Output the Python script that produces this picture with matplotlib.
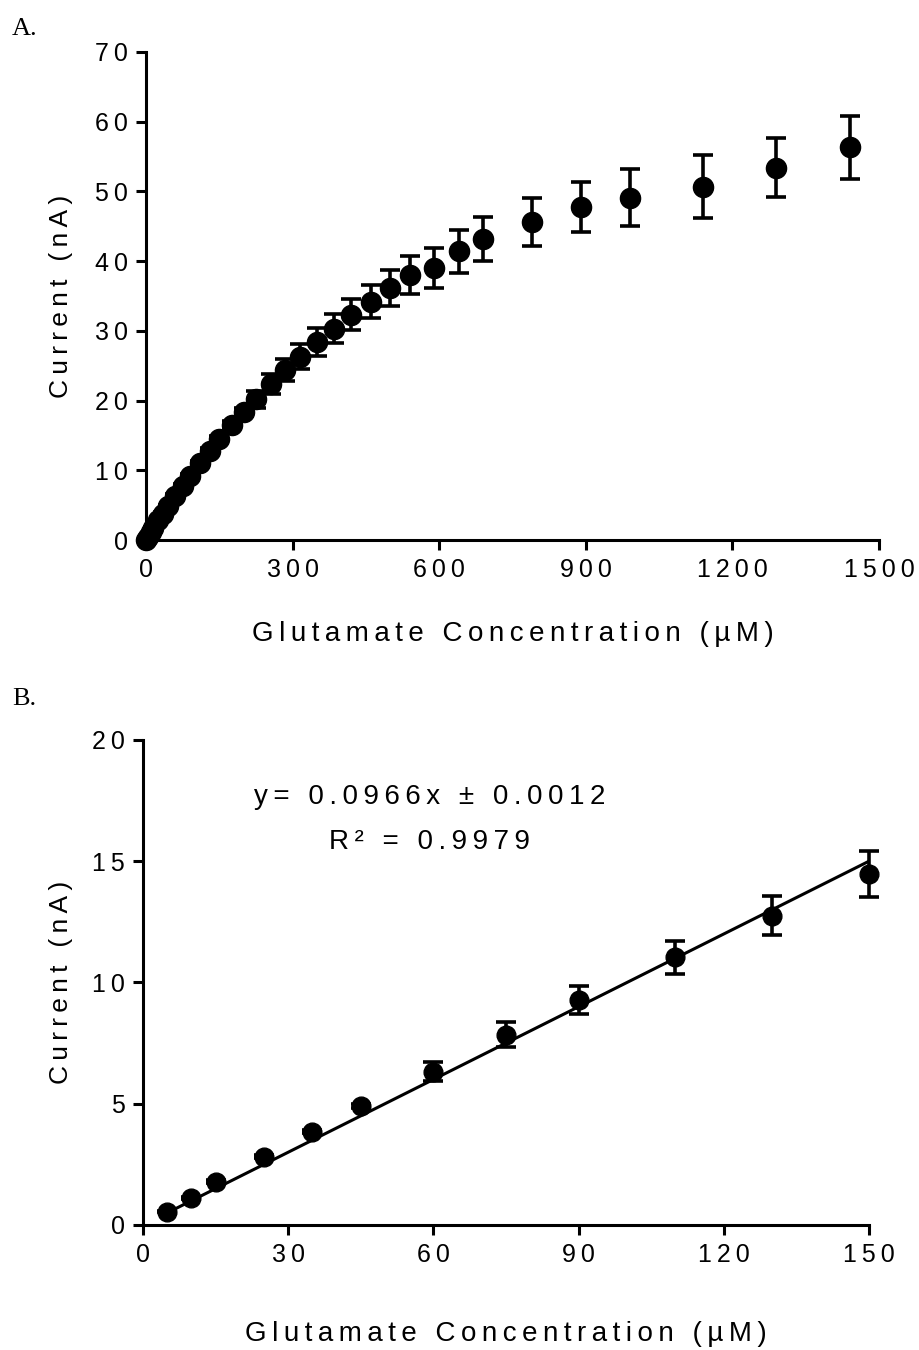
import matplotlib
matplotlib.use("Agg")
import matplotlib.pyplot as plt
import numpy as np

plt.rcParams['font.family'] = ['Liberation Sans', 'DejaVu Sans']

# panel A: full calibration range
conc_a = [0, 5, 10, 15, 25, 35, 45, 60, 75, 90, 110, 130, 150, 175, 200, 225,
          255, 285, 315, 350, 385, 420, 460, 500, 540, 590, 640, 690, 790, 890,
          990, 1140, 1290, 1440]
curr_a = [0.0, 0.5, 1.1, 1.75, 2.8, 3.8, 4.85, 6.3, 7.8, 9.2, 11.0, 12.8, 14.5,
          16.5, 18.4, 20.2, 22.4, 24.4, 26.3, 28.4, 30.3, 32.3, 34.2, 36.1,
          38.0, 39.0, 41.4, 43.2, 45.6, 47.8, 49.1, 50.7, 53.4, 56.3]
err_a = [0.0, 0.05, 0.05, 0.1, 0.1, 0.15, 0.2, 0.25, 0.3, 0.3, 0.35, 0.4, 0.45,
         0.5, 0.6, 1.2, 1.4, 1.6, 1.8, 2.0, 2.1, 2.2, 2.4, 2.6, 2.7, 2.9, 3.1,
         3.2, 3.45, 3.6, 4.05, 4.55, 4.25, 4.45]

# panel B: linear range
conc_b = [5, 10, 15, 25, 35, 45, 60, 75, 90, 110, 130, 150]
curr_b = [0.55, 1.13, 1.79, 2.82, 3.85, 4.9, 6.32, 7.85, 9.28, 11.04, 12.76, 14.47]
err_b = [0.03, 0.04, 0.05, 0.06, 0.07, 0.08, 0.4, 0.5, 0.57, 0.69, 0.8, 0.96]

# line drawn on the figure
fit_slope = 0.1
fit_intercept = 0.0

eq_text = "y= 0.0966x \u00b1 0.0012"
r2_text = "R\u00b2 = 0.9979"
xlab = "Glutamate Concentration (\u00b5M)"
ylab = "Current (nA)"

xticks_a = [0, 300, 600, 900, 1200, 1500]
yticks_a = [0, 10, 20, 30, 40, 50, 60, 70]
xticks_b = [0, 30, 60, 90, 120, 150]
yticks_b = [0, 5, 10, 15, 20]

THIN = '\u2009'


def spaced(s, sep=THIN):
    return sep.join(s)


def style(ax):
    for s in ['top', 'right']:
        ax.spines[s].set_visible(False)
    for s in ['left', 'bottom']:
        ax.spines[s].set_linewidth(2.2)
    ax.tick_params(width=2.2, length=7, labelsize=18, pad=6)


fig = plt.figure(figsize=(9.19, 13.5), dpi=100)

axA = fig.add_axes([0.1589, 0.6, 0.7976, 0.3615])
axA.errorbar(conc_a, curr_a, yerr=err_a, fmt='o', color='black', ms=14.5,
             elinewidth=2.6, capsize=7, capthick=2.6, clip_on=False, zorder=3)
axA.set_xlim(0, 1500)
axA.set_ylim(0, 70)
axA.set_xticks(xticks_a)
axA.set_xticklabels([spaced(str(t)) for t in xticks_a])
axA.set_yticks(yticks_a)
axA.set_yticklabels([spaced(str(t)) for t in yticks_a])
style(axA)
axA.set_xlabel(spaced(xlab), fontsize=20)
axA.set_ylabel(spaced(ylab), fontsize=19)
axA.xaxis.set_label_coords(0.5, -0.165)
axA.yaxis.set_label_coords(-0.0996, 0.5)
fig.text(0.013, 0.974, "A.", family=['Liberation Serif'], fontsize=19)

axB = fig.add_axes([0.1556, 0.0926, 0.79, 0.3593])
xs = np.array([conc_b[0], conc_b[-1]])
axB.plot(xs, fit_slope * xs + fit_intercept, color='black', lw=2.2, zorder=2)
axB.errorbar(conc_b, curr_b, yerr=err_b, fmt='o', color='black', ms=13.5,
             elinewidth=2.6, capsize=7, capthick=2.6, clip_on=False, zorder=3)
axB.set_xlim(0, 150)
axB.set_ylim(0, 20)
axB.set_xticks(xticks_b)
axB.set_xticklabels([spaced(str(t)) for t in xticks_b])
axB.set_yticks(yticks_b)
axB.set_yticklabels([spaced(str(t)) for t in yticks_b])
style(axB)
axB.set_xlabel(spaced(xlab), fontsize=20)
axB.set_ylabel(spaced(ylab), fontsize=19)
axB.xaxis.set_label_coords(0.5, -0.197)
axB.yaxis.set_label_coords(-0.096, 0.5)
axB.text(0.395, 0.882, spaced(eq_text), transform=axB.transAxes,
         ha='center', va='center', fontsize=20)
axB.text(0.395, 0.79, spaced(r2_text), transform=axB.transAxes,
         ha='center', va='center', fontsize=20)
fig.text(0.013, 0.478, "B.", family=['Liberation Serif'], fontsize=19)

fig.savefig("out.png", dpi=100)
